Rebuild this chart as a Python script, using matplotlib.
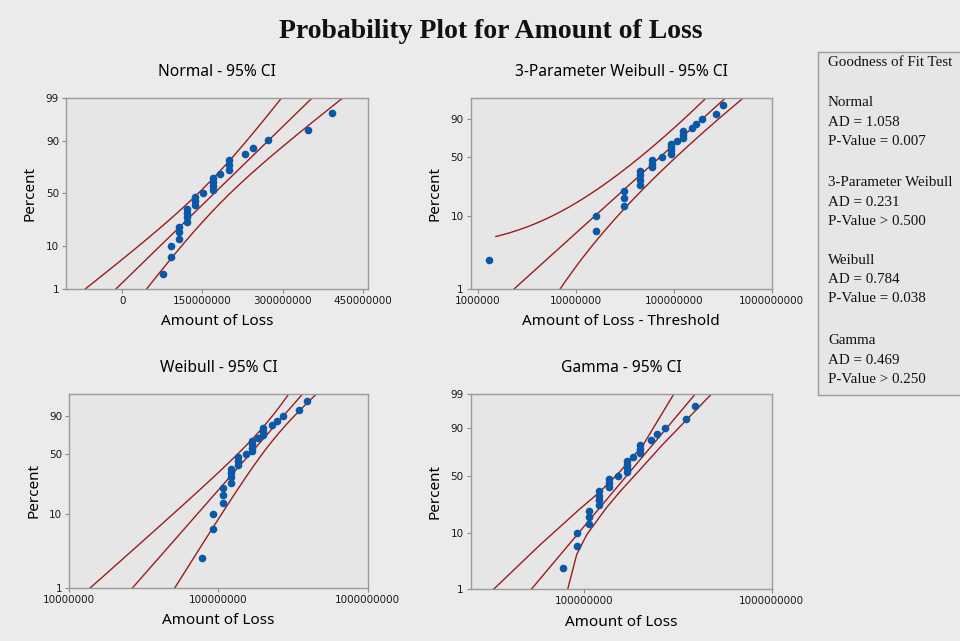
import numpy as np
import matplotlib
matplotlib.use("Agg")
import matplotlib.pyplot as plt
from matplotlib.patches import Rectangle
from statistics import NormalDist

# amount of loss, sorted
loss = np.array([77.3, 92, 92, 107, 107, 107, 121, 121, 121, 121, 136, 136, 136,
                 152, 169, 169, 169, 169, 183, 199, 199, 199, 229, 245, 272,
                 348, 393]) * 1e6

# fitted distributions
norm_mu, norm_sigma = 172e6, 79e6
wb3_shape, wb3_scale, wb3_thresh = 1.23, 98e6, 76e6
wb_shape, wb_scale = 2.34, 190e6
gam_shape, gam_scale = 6.0, 29.8e6

# gamma 95% CI band
gam_ci_pct_lo = [1, 6.4, 22, 35, 54, 79, 99]
gam_ci_lo = np.array([33.1, 58.5, 95.5, 121.9, 155.6, 207, 301]) * 1e6
gam_ci_pct_hi = [1, 4.4, 9.3, 22, 35, 54, 79, 99]
gam_ci_hi = np.array([82.1, 91.7, 103.6, 130.7, 155.6, 194.6, 262, 477]) * 1e6

# goodness of fit box
gof_title = "Goodness of Fit Test"
gof_names = ["Normal", "3-Parameter Weibull", "Weibull", "Gamma"]
gof_ad = ["1.058", "0.231", "0.784", "0.469"]
gof_p = ["= 0.007", "> 0.500", "= 0.038", "> 0.250"]

n = len(loss)
pct = 100 * (np.arange(1, n + 1) - 0.3) / (n + 0.4)   # median ranks

_nd = NormalDist()
_ppf = np.vectorize(_nd.inv_cdf, otypes=[float])
_cdf = np.vectorize(_nd.cdf, otypes=[float])


def z_of(p):
    p = np.clip(np.asarray(p, dtype=float) / 100, 1e-12, 1 - 1e-12)
    return _ppf(p)


def p_of_z(z):
    return 100 * _cdf(np.asarray(z, dtype=float))


def wb_fwd(p):
    p = np.clip(np.asarray(p, dtype=float) / 100, 1e-12, 1 - 1e-12)
    return np.log(-np.log(1 - p))


def wb_inv(w):
    return 100 * (1 - np.exp(-np.exp(np.asarray(w, dtype=float))))


# gamma scale (Wilson-Hilferty quantiles)
ga = 1 / (9 * gam_shape)
gs = 1 / (3 * np.sqrt(gam_shape))


def gam_fwd(p):
    return 3 * np.log(1 - ga + z_of(p) * gs)


def gam_inv(y):
    return p_of_z((np.exp(np.asarray(y, dtype=float) / 3) - 1 + ga) / gs)


RED = "#9c1c1c"
BLUE = "#0b58a8"
SANS = "Noto Sans"
BG = "#ebebeb"
PANEL = "#e6e6e6"

fig = plt.figure(figsize=(9.6, 6.41), dpi=100, facecolor=BG)


def panel(rect, fwd, inv, yticks, title, xlabel):
    ax = fig.add_axes(rect, facecolor=PANEL)
    ax.set_yscale("function", functions=(fwd, inv))
    ax.set_ylim(1, 99)
    ax.set_yticks(yticks)
    ax.set_yticklabels([str(t) for t in yticks])
    ax.minorticks_off()
    for s in ax.spines.values():
        s.set_color("#9a9a9a")
        s.set_linewidth(1.0)
    ax.tick_params(direction="out", length=3, width=0.8, color="#8a8a8a",
                   labelsize=7.5, labelcolor="#1a1a1a", pad=2)
    ax.text(0.5, 1.134, title, transform=ax.transAxes, ha="center", va="center",
            fontsize=11.2, family=SANS, color="#000000")
    ax.text(0.5, -0.17, xlabel, transform=ax.transAxes, ha="center", va="center",
            fontsize=11, family=SANS, color="#000000")
    ax.text(-0.12, 0.5, "Percent", transform=ax.transAxes, ha="center",
            va="center", rotation=90, fontsize=11, family=SANS, color="#000000")
    return ax


pgrid = np.concatenate([np.logspace(-4, 0, 60), np.linspace(1, 99, 300),
                        100 - np.logspace(0, -4, 60)])

# ---- Normal
ax = panel([0.0688, 0.5491, 0.3146, 0.2984], z_of, p_of_z, [1, 10, 50, 90, 99],
           "Normal - 95% CI", "Amount of Loss")
z = z_of(pgrid)
xc = norm_mu + z * norm_sigma
hw = 1.96 * norm_sigma * np.sqrt((1 + z ** 2 / 2) / n)
for xx in (xc - hw, xc, xc + hw):
    ax.plot(xx, pgrid, color=RED, lw=1.0)
ax.plot(loss, pct, "o", color=BLUE, ms=5.5, mew=0)
ax.set_xlim(-105e6, 460e6)
ax.set_xticks([0, 150e6, 300e6, 450e6])
ax.set_xticklabels(["0", "150000000", "300000000", "450000000"])

# ---- 3-parameter Weibull
ax = panel([0.4903, 0.5491, 0.3135, 0.2984], wb_fwd, wb_inv, [1, 10, 50, 90],
           "3-Parameter Weibull - 95% CI", "Amount of Loss - Threshold")
ax.set_xscale("log")
w = wb_fwd(pgrid)
ex = wb3_scale * np.exp(w / wb3_shape)
L = wb3_thresh + ex
delta = 0.225 * np.exp(0.3 * w)
lo = L * np.exp(-delta) - wb3_thresh
hi = L * np.exp(delta) - wb3_thresh
excess = loss - wb3_thresh
lo = np.where(lo >= excess.min(), lo, np.nan)
for xx in (lo, ex, hi):
    ax.plot(xx, pgrid, color=RED, lw=1.0)
ax.plot(excess, pct, "o", color=BLUE, ms=5.5, mew=0)
ax.set_xlim(8.4e5, 1e9)
ax.set_xticks([1e6, 1e7, 1e8, 1e9])
ax.set_xticklabels(["1000000", "10000000", "100000000", "1000000000"])
ax.minorticks_off()

# ---- Weibull
ax = panel([0.0722, 0.0832, 0.3108, 0.3017], wb_fwd, wb_inv, [1, 10, 50, 90],
           "Weibull - 95% CI", "Amount of Loss")
ax.set_xscale("log")
lc = np.log(wb_scale) + w / wb_shape
hw = 1.96 / wb_shape * np.sqrt((1.1087 - 0.514 * w + 0.6079 * w ** 2) / n)
for xx in (lc - hw, lc, lc + hw):
    ax.plot(np.exp(xx), pgrid, color=RED, lw=1.0)
ax.plot(loss, pct, "o", color=BLUE, ms=5.5, mew=0)
ax.set_xlim(1e7, 1e9)
ax.set_xticks([1e7, 1e8, 1e9])
ax.set_xticklabels(["10000000", "100000000", "1000000000"])
ax.minorticks_off()

# ---- Gamma
ax = panel([0.4903, 0.0807, 0.3135, 0.3042], gam_fwd, gam_inv, [1, 10, 50, 90, 99],
           "Gamma - 95% CI", "Amount of Loss")
ax.set_xscale("log")
gfit = gam_scale * gam_shape * np.exp(gam_fwd(pgrid))
ax.plot(gfit, pgrid, color=RED, lw=1.0)
ax.plot(gam_ci_lo, gam_ci_pct_lo, color=RED, lw=1.0)
ax.plot(gam_ci_hi, gam_ci_pct_hi, color=RED, lw=1.0)
ax.plot(loss, pct, "o", color=BLUE, ms=5.5, mew=0)
ax.set_xlim(25e6, 1e9)
ax.set_xticks([1e8, 1e9])
ax.set_xticklabels(["100000000", "1000000000"])
ax.minorticks_off()

# ---- title and goodness of fit box
fig.text(491 / 960, 1 - 32 / 641, "Probability Plot for Amount of Loss",
         ha="center", va="center", fontsize=20, fontweight="bold",
         family="Liberation Serif", color="#111111")

fig.patches.append(Rectangle((818 / 960, 1 - 395 / 641), 0.2, 343 / 641,
                             transform=fig.transFigure, facecolor=PANEL,
                             edgecolor="#9a9a9a", lw=1.0))
tx = 828 / 960
fig.text(tx, 1 - 63 / 641, gof_title, ha="left", va="center", fontsize=10.8,
         family="Liberation Serif", color="#111111")
block_y = [103, 183, 260, 341]
for name, ad, pv, y0 in zip(gof_names, gof_ad, gof_p, block_y):
    for k, line in enumerate([name, "AD = " + ad, "P-Value " + pv]):
        fig.text(tx, 1 - (y0 + 19.3 * k) / 641, line, ha="left", va="center",
                 fontsize=10.8, family="Liberation Serif", color="#111111")

fig.savefig("out.png", dpi=100, facecolor=BG)
